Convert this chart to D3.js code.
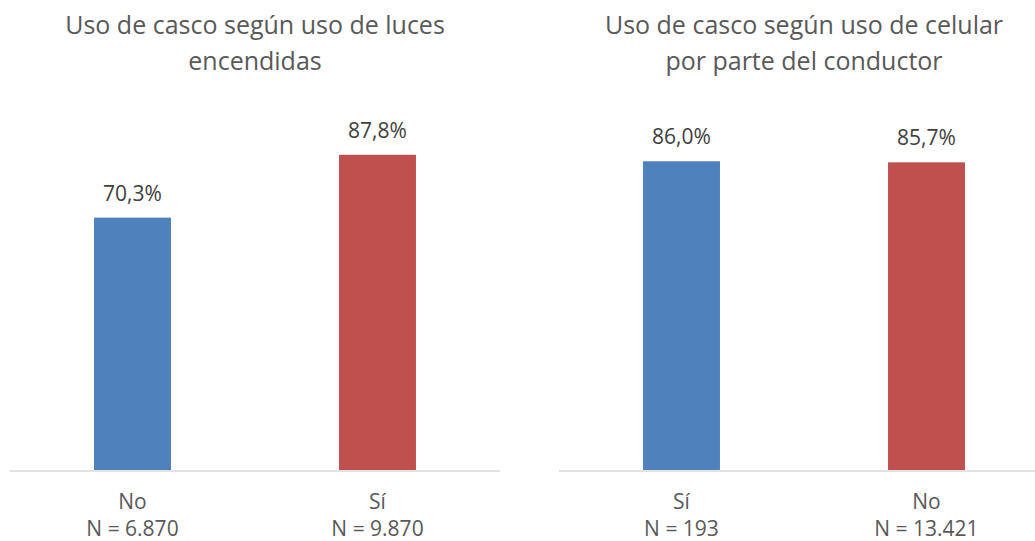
<!DOCTYPE html>
<html lang="es">
<head>
    <meta charset="utf-8">
    <title>Uso de casco</title>
    <style>
        body { margin: 0; background: #fff; }
        text { font-family: "Open Sans", sans-serif; fill: #595959; }
    </style>
</head>
<body>
    <div id="container"></div>

    <script src="https://cdn.jsdelivr.net/npm/d3@7"></script>
    <script>
        // Data: chart 1 (luces encendidas)
        const titles1 = ["Uso de casco según uso de luces", "encendidas"];
        const cats1 = ["No", "Sí"];
        const ns1 = ["N = 6.870", "N = 9.870"];
        const vals1 = [70.3, 87.8];

        // Data: chart 2 (celular)
        const titles2 = ["Uso de casco según uso de celular", "por parte del conductor"];
        const cats2 = ["Sí", "No"];
        const ns2 = ["N = 193", "N = 13.421"];
        const vals2 = [86.0, 85.7];

        const colors = ["#4F81BD", "#C0504D"];

        const width = 1035;
        const height = 541;
        const baseY = 470;
        const topY = 111;

        const svg = d3.select("#container").append("svg")
            .attr("width", width)
            .attr("height", height);

        const y = d3.scaleLinear().domain([0, 100]).range([baseY, topY]);

        function drawPanel(x0, x1, titles, cats, ns, vals) {
            const g = svg.append("g");
            const x = d3.scaleBand()
                .domain(cats)
                .range([x0, x1])
                .paddingInner(0.686)
                .paddingOuter(0.343);
            const cx = (x0 + x1) / 2;

            // title
            g.selectAll(".title")
                .data(titles)
                .enter().append("text")
                .attr("class", "title")
                .attr("x", cx)
                .attr("y", (d, i) => 34 + i * 36)
                .attr("text-anchor", "middle")
                .style("font-size", "25px")
                .text(d => d);

            // bars
            g.selectAll("rect")
                .data(vals)
                .enter().append("rect")
                .attr("x", (d, i) => x(cats[i]))
                .attr("y", d => y(d))
                .attr("width", x.bandwidth())
                .attr("height", d => baseY - y(d))
                .attr("fill", (d, i) => colors[i]);

            // baseline
            g.append("line")
                .attr("x1", x0)
                .attr("x2", Math.min(x1, width))
                .attr("y1", baseY + 1)
                .attr("y2", baseY + 1)
                .attr("stroke", "#D9D9D9")
                .attr("stroke-width", 1.5);

            // value labels
            g.selectAll(".val")
                .data(vals)
                .enter().append("text")
                .attr("class", "val")
                .attr("x", (d, i) => x(cats[i]) + x.bandwidth() / 2)
                .attr("y", d => y(d) - 17)
                .attr("text-anchor", "middle")
                .style("font-size", "21px")
                .style("fill", "#404040")
                .text(d => d.toFixed(1).replace(".", ",") + "%");

            // category labels
            g.selectAll(".cat")
                .data(cats)
                .enter().append("text")
                .attr("class", "cat")
                .attr("x", d => x(d) + x.bandwidth() / 2)
                .attr("y", 509)
                .attr("text-anchor", "middle")
                .style("font-size", "21px")
                .text(d => d);

            g.selectAll(".n")
                .data(ns)
                .enter().append("text")
                .attr("class", "n")
                .attr("x", (d, i) => x(cats[i]) + x.bandwidth() / 2)
                .attr("y", 536)
                .attr("text-anchor", "middle")
                .style("font-size", "21px")
                .text(d => d);
        }

        drawPanel(10, 500, titles1, cats1, ns1, vals1);
        drawPanel(559, 1049, titles2, cats2, ns2, vals2);
    </script>
</body>
</html>
